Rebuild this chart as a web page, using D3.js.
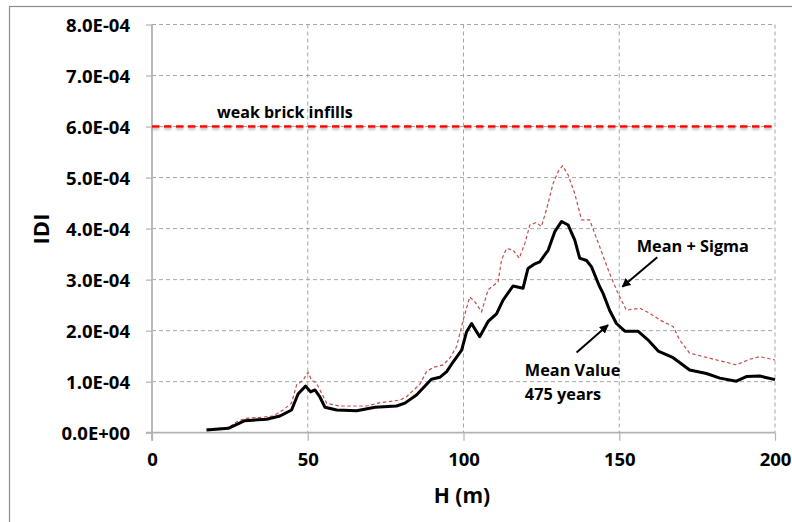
<!DOCTYPE html>
<html>
<head>
<meta charset="utf-8">
<script src="https://cdn.jsdelivr.net/npm/d3@7/dist/d3.min.js"></script>
<style>
  html, body { margin: 0; padding: 0; background: #fff; }
  svg { display: block; font-family: "Open Sans", Lato, sans-serif; font-weight: bold; }
</style>
</head>
<body>
<svg id="chart" width="792" height="522"></svg>
<script>
// Height above ground H (m) and inter-storey drift |D| for the mean response
const meanH = [17.5, 24.5, 29.8, 36.8, 41.1, 44.8, 46.9, 49.3, 50.9, 52.3, 53.9, 55.5, 59.3, 65.7, 71.6, 78.5, 81.2, 84.9, 89.7, 92.4, 94.6, 96.7, 99.4, 101.0, 102.6, 104.2, 105.2, 107.9, 110.6, 112.7, 115.9, 119.1, 120.7, 122.9, 124.5, 127.2, 129.3, 131.5, 133.6, 135.7, 137.3, 139.5, 141.1, 143.5, 144.8, 146.9, 149.1, 151.8, 156.0, 159.2, 162.5, 167.3, 172.6, 178.0, 182.3, 187.6, 190.8, 195.1, 200.0];
const meanD = [0.053e-4, 0.086e-4, 0.235e-4, 0.263e-4, 0.327e-4, 0.445e-4, 0.758e-4, 0.915e-4, 0.80e-4, 0.837e-4, 0.70e-4, 0.50e-4, 0.445e-4, 0.43e-4, 0.50e-4, 0.523e-4, 0.58e-4, 0.74e-4, 1.047e-4, 1.086e-4, 1.196e-4, 1.39e-4, 1.62e-4, 1.98e-4, 2.14e-4, 1.98e-4, 1.88e-4, 2.18e-4, 2.33e-4, 2.60e-4, 2.875e-4, 2.83e-4, 3.22e-4, 3.31e-4, 3.35e-4, 3.58e-4, 3.94e-4, 4.14e-4, 4.07e-4, 3.78e-4, 3.42e-4, 3.375e-4, 3.25e-4, 2.89e-4, 2.73e-4, 2.40e-4, 2.14e-4, 1.99e-4, 1.99e-4, 1.82e-4, 1.60e-4, 1.47e-4, 1.23e-4, 1.16e-4, 1.07e-4, 1.01e-4, 1.10e-4, 1.11e-4, 1.04e-4];

// Mean + one standard deviation
const sigmaH = [17.5, 24.5, 27.2, 29.8, 34.7, 38.9, 42.1, 44.8, 46.4, 48.5, 50.1, 51.2, 52.8, 54.5, 56.1, 60.3, 68.9, 73.2, 79.6, 81.7, 86.0, 88.1, 90.3, 93.5, 95.6, 97.8, 99.9, 102.0, 103.6, 105.8, 107.9, 111.1, 112.2, 113.8, 115.9, 117.9, 119.7, 121.3, 123.4, 125.0, 126.6, 128.8, 130.4, 131.8, 133.6, 135.7, 137.9, 140.5, 143.7, 146.9, 149.6, 152.3, 156.6, 159.8, 163.0, 167.3, 169.4, 172.6, 179.0, 187.6, 191.9, 195.1, 200.0];
const sigmaD = [0.073e-4, 0.098e-4, 0.216e-4, 0.28e-4, 0.30e-4, 0.327e-4, 0.445e-4, 0.58e-4, 0.935e-4, 1.03e-4, 1.185e-4, 1.03e-4, 0.97e-4, 0.77e-4, 0.576e-4, 0.523e-4, 0.523e-4, 0.588e-4, 0.64e-4, 0.706e-4, 0.95e-4, 1.196e-4, 1.28e-4, 1.33e-4, 1.46e-4, 1.69e-4, 2.21e-4, 2.66e-4, 2.57e-4, 2.37e-4, 2.80e-4, 2.96e-4, 3.385e-4, 3.61e-4, 3.58e-4, 3.42e-4, 3.71e-4, 4.07e-4, 4.12e-4, 4.04e-4, 4.365e-4, 4.89e-4, 5.12e-4, 5.23e-4, 5.05e-4, 4.69e-4, 4.17e-4, 4.17e-4, 3.65e-4, 3.12e-4, 2.73e-4, 2.40e-4, 2.44e-4, 2.34e-4, 2.21e-4, 2.08e-4, 1.82e-4, 1.56e-4, 1.46e-4, 1.33e-4, 1.44e-4, 1.49e-4, 1.425e-4];

// Drift limit for weak brick infills
const limitD = 6.0e-4;
const limitLabel = "weak brick infills";

const xTicks = [0, 50, 100, 150, 200];
const yTicks = [0, 1e-4, 2e-4, 3e-4, 4e-4, 5e-4, 6e-4, 7e-4, 8e-4];
const yTickLabels = ["0.0E+00", "1.0E-04", "2.0E-04", "3.0E-04", "4.0E-04", "5.0E-04", "6.0E-04", "7.0E-04", "8.0E-04"];

const xTitle = "H (m)";
const yTitle = "IDI";

const svg = d3.select("#chart");
const m = { left: 152, right: 775, top: 24.5, bottom: 432.7 };

const x = d3.scaleLinear().domain([0, 200]).range([m.left, m.right]);
const y = d3.scaleLinear().domain([0, 8e-4]).range([m.bottom, m.top]);

// outer chart frame
svg.append("rect")
  .attr("x", 9.5).attr("y", 6.5).attr("width", 900).attr("height", 600)
  .attr("fill", "none").attr("stroke", "#8c8c8c").attr("stroke-width", 1.2);

const defs = svg.append("defs");
const shadow = defs.append("filter").attr("id", "shadow")
  .attr("filterUnits", "userSpaceOnUse")
  .attr("x", 0).attr("y", 0).attr("width", 792).attr("height", 522);
shadow.append("feDropShadow").attr("dx", 0).attr("dy", 2).attr("stdDeviation", 1.2)
  .attr("flood-color", "#808080").attr("flood-opacity", 0.55);

const marker = defs.append("marker").attr("id", "arrow")
  .attr("viewBox", "0 0 10 10").attr("refX", 9).attr("refY", 5)
  .attr("markerWidth", 4.5).attr("markerHeight", 4.5).attr("orient", "auto")
  .attr("markerUnits", "strokeWidth");
marker.append("path").attr("d", "M0,0 L10,5 L0,10 Z").attr("fill", "#000");

// horizontal grid
svg.append("g")
  .selectAll("line").data(yTicks.slice(1)).join("line")
  .attr("x1", m.left).attr("x2", m.right)
  .attr("y1", d => y(d)).attr("y2", d => y(d))
  .attr("stroke", "#a6a6a6").attr("stroke-width", 1).attr("stroke-dasharray", "4,3");

// vertical grid
svg.append("g")
  .selectAll("line").data(xTicks.slice(1)).join("line")
  .attr("x1", d => x(d)).attr("x2", d => x(d))
  .attr("y1", m.top).attr("y2", m.bottom)
  .attr("stroke", "#a6a6a6").attr("stroke-width", 1).attr("stroke-dasharray", "4,3");

const tickFont = 18.5;

// axes
const yAxis = d3.axisLeft(y).tickValues(yTicks).tickSize(6).tickFormat((d, i) => yTickLabels[i]);
const gy = svg.append("g").attr("transform", `translate(${m.left},0)`).call(yAxis);
gy.select(".domain").attr("stroke", "#b3b3b3").attr("stroke-width", 1.8)
  .attr("d", `M0,${m.top}V${m.bottom + 8}`);
gy.selectAll(".tick line").attr("stroke", "#b3b3b3").attr("stroke-width", 1.2);
gy.selectAll(".tick text").attr("x", -22).attr("dy", "0.36em")
  .attr("font-size", tickFont).attr("font-family", "'Open Sans', sans-serif").attr("font-weight", "bold").attr("fill", "#000");

const xAxis = d3.axisBottom(x).tickValues(xTicks).tickSize(8).tickFormat(d3.format("d"));
const gx = svg.append("g").attr("transform", `translate(0,${m.bottom})`).call(xAxis);
gx.select(".domain").attr("stroke", "#b3b3b3").attr("stroke-width", 1.8)
  .attr("d", `M${m.left - 6},0H${m.right}`);
gx.selectAll(".tick line").attr("stroke", "#b3b3b3").attr("stroke-width", 1.2);
gx.selectAll(".tick text").attr("y", 27).attr("dy", "0.36em")
  .attr("font-size", tickFont).attr("font-family", "'Open Sans', sans-serif").attr("font-weight", "bold").attr("fill", "#000");

// axis titles
svg.append("text").attr("x", 462).attr("y", 495).attr("dy", "0.36em")
  .attr("text-anchor", "middle").attr("font-size", 21).text(xTitle);
svg.append("text").attr("transform", "translate(41,229) rotate(-90)").attr("dy", "0.36em")
  .attr("text-anchor", "middle").attr("font-size", 22).text(yTitle);

// limit line
svg.append("line")
  .attr("x1", x(0)).attr("x2", x(200)).attr("y1", y(limitD)).attr("y2", y(limitD))
  .attr("stroke", "#ff0000").attr("stroke-width", 2.5).attr("stroke-dasharray", "7.5,4.5")
  .attr("filter", "url(#shadow)");
svg.append("text").attr("x", x(20.9)).attr("y", y(6.29e-4)).attr("dy", "0.36em")
  .attr("font-size", 16).text(limitLabel);

// series lines
const line = d3.line().x(d => x(d[0])).y(d => y(d[1]));
svg.append("path").datum(d3.zip(sigmaH, sigmaD)).attr("d", line)
  .attr("fill", "none").attr("stroke", "#c0504d").attr("stroke-width", 1.2)
  .attr("stroke-dasharray", "3.5,2.5");
svg.append("path").datum(d3.zip(meanH, meanD)).attr("d", line)
  .attr("fill", "none").attr("stroke", "#000").attr("stroke-width", 3)
  .attr("stroke-linejoin", "round");

// annotations
svg.append("text").attr("x", x(155.6)).attr("y", y(3.66e-4)).attr("dy", "0.36em")
  .attr("font-size", 16.3).text("Mean + Sigma");
svg.append("text").attr("x", x(119.7)).attr("y", y(1.23e-4)).attr("dy", "0.36em")
  .attr("font-size", 16.3).text("Mean Value");
svg.append("text").attr("x", x(119.7)).attr("y", y(0.76e-4)).attr("dy", "0.36em")
  .attr("font-size", 16.3).text("475 years");

svg.append("line")
  .attr("x1", x(162.2)).attr("y1", y(3.44e-4)).attr("x2", x(151.0)).attr("y2", y(2.86e-4))
  .attr("stroke", "#000").attr("stroke-width", 2).attr("marker-end", "url(#arrow)");
svg.append("line")
  .attr("x1", x(136.3)).attr("y1", y(1.57e-4)).attr("x2", x(146.4)).attr("y2", y(2.11e-4))
  .attr("stroke", "#000").attr("stroke-width", 2).attr("marker-end", "url(#arrow)");
</script>
</body>
</html>
